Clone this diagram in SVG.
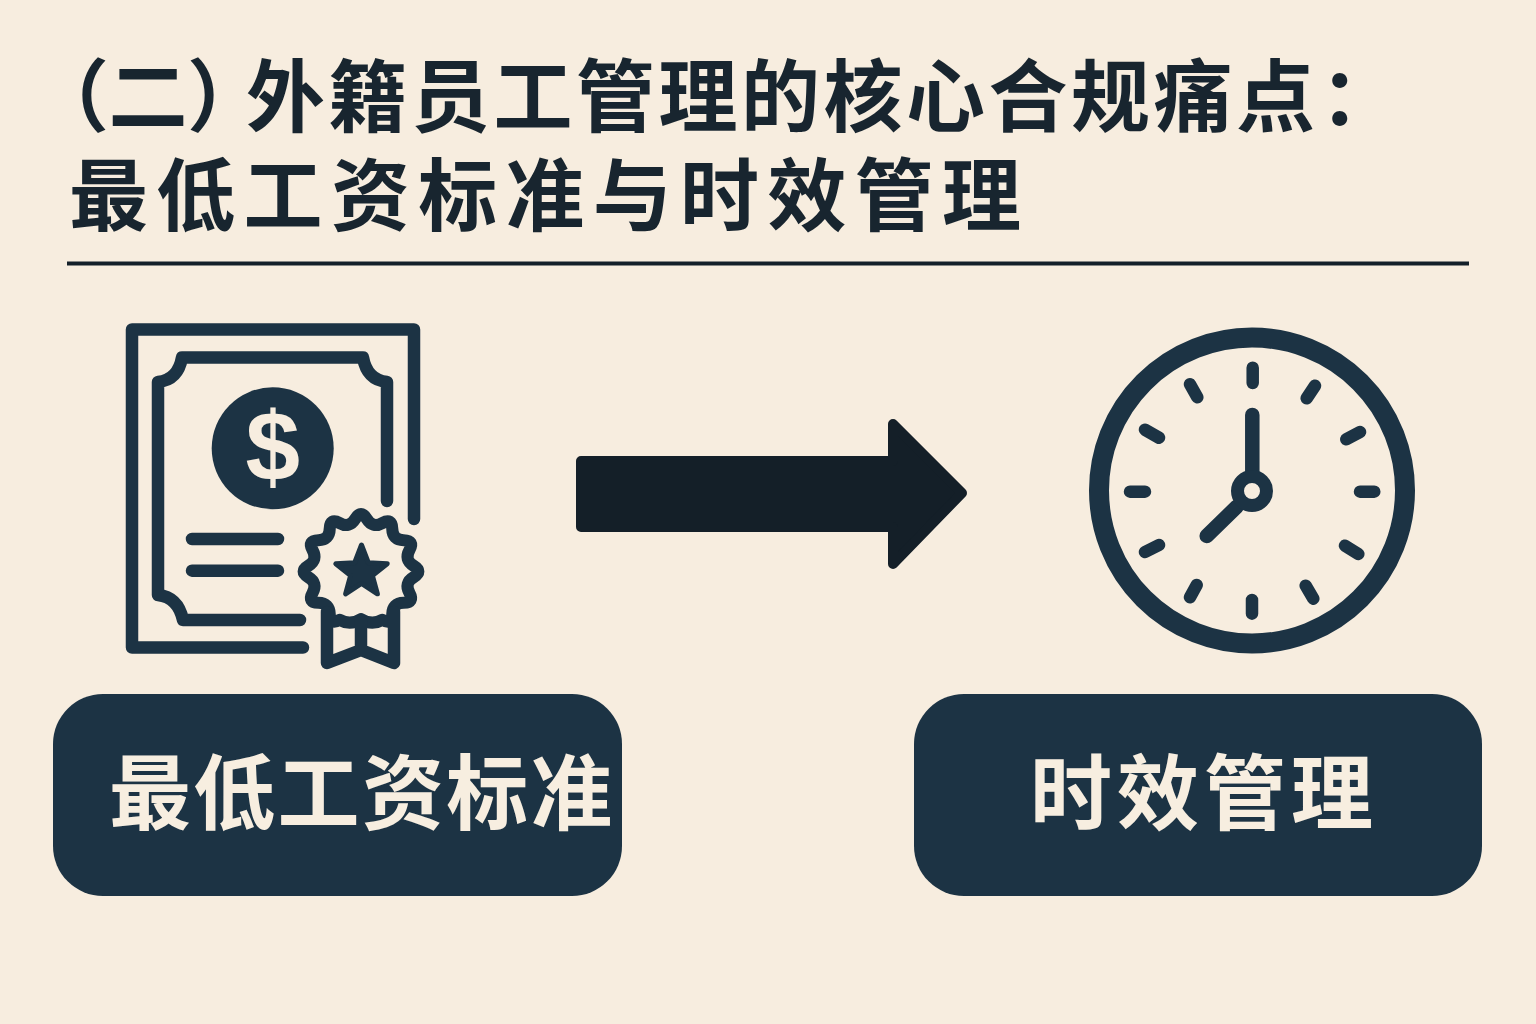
<svg xmlns="http://www.w3.org/2000/svg" width="1536" height="1024" viewBox="0 0 1536 1024">
<style>
.t{font-family:"Noto Sans CJK SC","Noto Sans",sans-serif;font-weight:700}
.title{font-size:79px;fill:#18252f}
.pillt{font-size:82px;fill:#f7eee0}
.pill{fill:#1c3344}
.ic{fill:none;stroke:#1c3344;stroke-width:12.500;stroke-linecap:round;stroke-linejoin:round}
</style>
<rect width="1536" height="1024" fill="#f7eddf"/>
<g id="title">
<text class="t title" y="126"><tspan x="66" style="font-feature-settings:'palt'" letter-spacing="3">（二）</tspan><tspan x="246" letter-spacing="3.500">外籍员工管理的核心合规痛点</tspan><tspan x="1320">：</tspan></text>
<text class="t title" x="69" y="225" letter-spacing="8.300">最低工资标准与时效管理</text>
<rect x="67" y="261.500" width="1402" height="4" fill="#14202a"/>
</g>
<g id="node-wage-icon">
<path class="ic" d="M414 519V329.500H132V647.500H303"/>
<path class="ic" d="M387 501V382Q367 380 363 357.500H182Q178 380 158 382V595Q178 597 183 620H300"/>
<circle cx="272.700" cy="448.300" r="61" fill="#1c3344"/>
<text x="272.700" y="481" text-anchor="middle" font-family="Liberation Sans,sans-serif" font-weight="700" font-size="98" fill="#f7eddf">$</text>
<path class="ic" d="M192 539H278M192 570.700H278"/>
<path class="ic" transform="translate(361 571.500) scale(.97)" d="M54.200 5.950Q44.400 11.900 49.900 21.950Q55.400 32 43.950 32.250Q32.500 32.500 32.250 43.950Q32 55.400 21.950 49.900Q11 56 0 49Q-11 56 -21.950 49.900Q-32 55.400 -32.250 43.950Q-32.500 32.500 -43.950 32.250Q-55.400 32 -49.900 21.950Q-44.400 11.900 -54.200 5.950Q-64 0 -54.200 -5.950Q-44.400 -11.900 -49.900 -21.950Q-55.400 -32 -43.950 -32.250Q-32.500 -32.500 -32.250 -43.950Q-32 -55.400 -21.950 -49.900Q-11.900 -44.400 -5.950 -54.200Q0 -64 5.950 -54.200Q11.900 -44.400 21.950 -49.900Q32 -55.400 32.250 -43.950Q32.500 -32.500 43.950 -32.250Q55.400 -32 49.900 -21.950Q44.400 -11.900 54.200 -5.950Q64 0 54.200 5.950Z"/>
<path transform="translate(361.500 572)" fill="#1c3344" stroke="#1c3344" stroke-width="5" stroke-linejoin="round" d="M0 -27L6.800 -9.300L25.700 -8.300L10.900 3.600L15.900 21.800L0 11.500L-15.900 21.800L-10.900 3.600L-25.700 -8.300L-6.800 -9.300Z"/>
<path class="ic" d="M327 612V663L361 650L394 663V612M361 622V650"/>
</g>
<g id="node-clock-icon">
<circle cx="1252" cy="490.500" r="153" fill="none" stroke="#1c3344" stroke-width="20"/>
<path class="ic" d="M1252.700 367.700V383M1315 385.700L1306.700 398.300M1360 432L1346.300 439.300M1374.300 491.700H1360M1358.300 554L1345 545.700M1313.300 598.700L1305.700 585.700M1252 613.700V600M1190 597.300L1196.700 585M1145 552L1159 545M1130 491.700H1145M1145 429.700L1159 437.700M1190 384.300L1197.300 397.300"/>
<path class="ic" style="stroke-width:14.500" d="M1252.300 415V480M1206.700 536L1236.700 506.700"/>
<circle cx="1252" cy="491" r="14.500" fill="#f7eddf" stroke="#1c3344" stroke-width="13"/>
</g>
<g id="connectors">
<path d="M581 461H893V424L962 493L893 564V527H581Z" fill="#141f28" stroke="#141f28" stroke-width="10" stroke-linejoin="round"/>
</g>
<g id="node-wage">
<rect class="pill" x="53" y="694" width="569" height="202" rx="50"/>
<text class="t pillt" x="109" y="823" letter-spacing="2.300">最低工资标准</text>
</g>
<g id="node-time">
<rect class="pill" x="914" y="694" width="568" height="202" rx="50"/>
<text class="t pillt" x="1030" y="823" letter-spacing="5">时效管理</text>
</g>
</svg>
